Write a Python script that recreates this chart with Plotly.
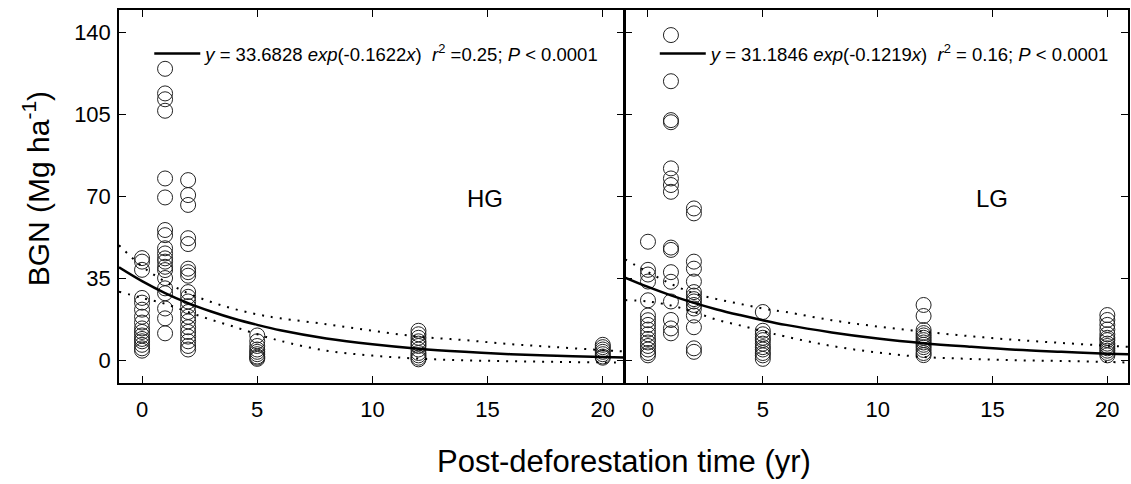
import plotly.graph_objects as go

# ---------------- data ----------------
time_groups = [0, 1, 2, 5, 12, 20]

# HG panel, BGN values per post-deforestation time
hg_t0 = [43.5, 42, 38.5, 26.5, 24.5, 21.5, 18.5, 16, 13.5, 12, 10.5, 9, 8, 6.5, 5, 4]
hg_t1 = [124.3, 113.8, 111.3, 106.4, 77.5, 69.4, 55.5, 53.3, 47.7, 45.5, 43.4, 42, 39.8, 38.4,
         35, 30.6, 28.5, 22, 17.8, 11.4]
hg_t2 = [76.8, 70.4, 66.2, 52, 49.5, 39, 37.5, 36, 29, 27, 25, 23, 20.5, 18.5, 16.5, 14, 12,
         10, 8, 6, 4.5]
hg_t5 = [10.5, 8, 6, 4.5, 3.5, 2.5, 1.5, 1, 0.5]
hg_t12 = [12.5, 11, 9.5, 8, 7, 6, 4.5, 3, 2, 1, 0.3]
hg_t20 = [6.5, 5.5, 4.5, 3.5, 2.5, 1.5, 1]

# LG panel
lg_t0 = [50.5, 38.5, 36.5, 33.5, 25.5, 19, 17, 15, 13, 11, 9, 7.5, 6, 4.5, 3, 2]
lg_t1 = [138.7, 119, 102.4, 101.5, 81.8, 77.5, 74.7, 71.8, 48, 47, 37.5, 33.4, 25, 17.1, 13.5, 11.4]
lg_t2 = [64.7, 62.6, 42, 39, 33.5, 29, 27.5, 26, 25, 23.5, 22, 19, 14, 5, 3.5]
lg_t5 = [20.5, 12.5, 11, 9.5, 8.5, 7, 5.5, 4.5, 3, 2, 0.5]
lg_t12 = [23.5, 18.8, 12.8, 11.5, 10.5, 9.5, 8.5, 7.5, 6.5, 5.5, 4.3, 3, 2.1]
lg_t20 = [19.2, 17.1, 15, 13, 11, 9.5, 8.5, 7, 6, 5, 4, 3, 2]

# fitted curves and dotted confidence bands
fit_x = [-1, 0, 1, 2, 3, 4, 5, 6, 8, 10, 12, 14, 16, 18, 20, 21]
hg_fit = [39.6, 33.7, 28.6, 24.3, 20.7, 17.6, 15.0, 12.7, 9.2, 6.7, 4.8, 3.5, 2.5, 1.8, 1.3, 1.1]
hg_upper = [49, 40, 33.5, 28.5, 24.8, 21.8, 19.5, 17.8, 15.3, 12.5, 10, 8.5, 6.8, 5.5, 4.2, 3.6]
hg_lower = [29.2, 26.5, 24, 20.5, 17.2, 14.2, 11, 8.2, 4, 1.9, 0.6, -0.1, -0.5, -0.8, -1.0, -1.1]
lg_fit = [35.2, 31.2, 27.6, 24.4, 21.6, 19.2, 17.0, 15.0, 11.8, 9.2, 7.2, 5.7, 4.4, 3.5, 2.7, 2.4]
lg_upper = [43, 37.5, 32.5, 28.5, 26, 24, 22, 20.5, 17, 14.3, 12.1, 10.2, 8.6, 7.3, 6.1, 5.6]
lg_lower = [25.6, 25, 23.3, 20.5, 17.2, 14.8, 12.3, 10, 6, 3.2, 1.3, 0.5, -0.1, -0.4, -0.8, -1.1]

hg_label = "<i>y</i> = 33.6828 <i>exp</i>(-0.1622<i>x</i>)  <i>r</i><sup>2</sup> =0.25; <i>P</i> &lt; 0.0001"
lg_label = "<i>y</i> = 31.1846 <i>exp</i>(-0.1219<i>x</i>)  <i>r</i><sup>2</sup> = 0.16; <i>P</i> &lt; 0.0001"

x_ticks = [0, 5, 10, 15, 20]
y_ticks = [0, 35, 70, 105, 140]

# ---------------- build ----------------
def flatten(groups):
    xs, ys = [], []
    for t, vals in zip(time_groups, groups):
        xs += [t] * len(vals)
        ys += vals
    return xs, ys

hg_x, hg_y = flatten([hg_t0, hg_t1, hg_t2, hg_t5, hg_t12, hg_t20])
lg_x, lg_y = flatten([lg_t0, lg_t1, lg_t2, lg_t5, lg_t12, lg_t20])

FONT = "Arial, Liberation Sans, sans-serif"
marker = dict(symbol="circle-open", size=15, color="#222", line=dict(width=1, color="#222"))
dotline = dict(color="black", width=2, dash="2px,7px")
fitline = dict(color="black", width=2.5)

fig = go.Figure()
for xa, ya, xs, ys, fit, up, lo, lab, lgd in [
    ("x", "y", hg_x, hg_y, hg_fit, hg_upper, hg_lower, hg_label, "legend"),
    ("x2", "y2", lg_x, lg_y, lg_fit, lg_upper, lg_lower, lg_label, "legend2"),
]:
    fig.add_trace(go.Scatter(x=xs, y=ys, mode="markers", marker=marker, xaxis=xa, yaxis=ya,
                             showlegend=False, cliponaxis=True))
    fig.add_trace(go.Scatter(x=fit_x, y=up, mode="lines", line=dotline, line_shape="spline",
                             xaxis=xa, yaxis=ya, showlegend=False))
    fig.add_trace(go.Scatter(x=fit_x, y=lo, mode="lines", line=dotline, line_shape="spline",
                             xaxis=xa, yaxis=ya, showlegend=False))
    fig.add_trace(go.Scatter(x=fit_x, y=fit, mode="lines", line=fitline, line_shape="spline",
                             xaxis=xa, yaxis=ya, name=lab, legend=lgd, showlegend=True))

axis_common = dict(showline=True, linecolor="black", linewidth=1.5, mirror="ticks",
                   ticks="inside", ticklen=7, tickwidth=1.2, tickcolor="black",
                   showgrid=False, zeroline=False,
                   tickfont=dict(family=FONT, size=22, color="black"))

fig.update_layout(
    width=1131, height=484,
    margin=dict(l=119, r=1, t=10, b=101),
    paper_bgcolor="white", plot_bgcolor="white",
    font=dict(family=FONT, color="black"),
    xaxis=dict(domain=[0, 0.5], range=[-1, 20.9], tickvals=x_ticks, anchor="y",
               ticklabelstandoff=6, **axis_common),
    xaxis2=dict(domain=[0.5015, 1], range=[-1, 20.9], tickvals=x_ticks, anchor="y2",
                ticklabelstandoff=6, **axis_common),
    yaxis=dict(range=[-9.8, 149.4], tickvals=y_ticks, anchor="x", ticklabelstandoff=2,
               **axis_common),
    yaxis2=dict(range=[-9.8, 149.4], tickvals=y_ticks, anchor="x2", showticklabels=False,
                **axis_common),
    legend=dict(x=0.03, y=0.882, xanchor="left", yanchor="middle", bgcolor="rgba(0,0,0,0)",
                itemwidth=46, font=dict(family=FONT, size=18.5, color="black")),
    legend2=dict(x=0.531, y=0.882, xanchor="left", yanchor="middle", bgcolor="rgba(0,0,0,0)",
                 itemwidth=46, font=dict(family=FONT, size=18.5, color="black")),
    annotations=[
        dict(text="HG", x=14.9, y=69, xref="x", yref="y", showarrow=False,
             font=dict(family=FONT, size=24, color="black")),
        dict(text="LG", x=15.0, y=69, xref="x2", yref="y2", showarrow=False,
             font=dict(family=FONT, size=24, color="black")),
        dict(text="Post-deforestation time (yr)", x=0.5, y=-0.21, xref="paper", yref="paper",
             xanchor="center", yanchor="middle", showarrow=False,
             font=dict(family=FONT, size=31, color="black")),
        dict(text="BGN (Mg ha<sup>-1</sup>)", x=-0.082, y=0.52, xref="paper", yref="paper",
             xanchor="center", yanchor="middle", textangle=-90, showarrow=False,
             font=dict(family=FONT, size=30, color="black")),
    ],
)

fig.write_html("out.html")
